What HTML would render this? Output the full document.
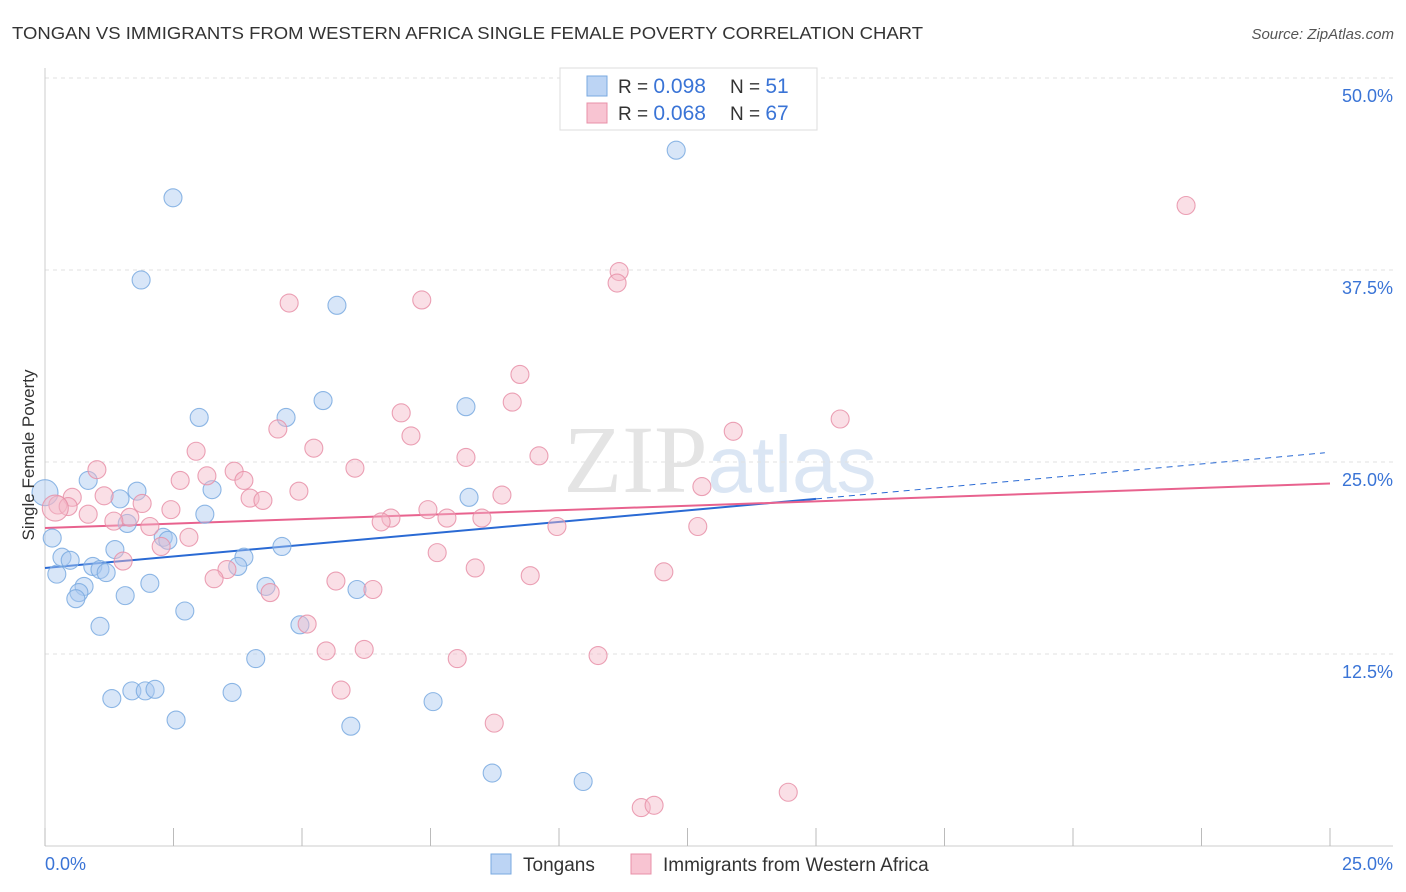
<!DOCTYPE html>
<html><head><meta charset="utf-8"><style>
body{margin:0;background:#fff;font-family:"Liberation Sans",sans-serif;}
svg{display:block}
</style></head><body>
<svg id="chart" width="1406" height="892">
<text x="12" y="39" font-size="17.5" fill="#333" textLength="911" lengthAdjust="spacingAndGlyphs">TONGAN VS IMMIGRANTS FROM WESTERN AFRICA SINGLE FEMALE POVERTY CORRELATION CHART</text>
<text x="1394" y="39" font-size="15" fill="#555" font-style="italic" text-anchor="end">Source: ZipAtlas.com</text>
<text x="720" y="492" font-size="96" fill="#e4e4e4" text-anchor="middle" font-family="Liberation Serif,serif">ZIP<tspan fill="#dbe6f4" font-family="Liberation Sans,sans-serif" font-size="80">atlas</tspan></text>
<g id="grid"></g>
<g id="axes"></g>
<g id="lines"></g>
<g id="points"></g>
<text transform="translate(34,455) rotate(-90)" font-size="17" fill="#333" text-anchor="middle">Single Female Poverty</text>
<g>
<rect x="560" y="68" width="257" height="62" fill="#fff" stroke="#ddd"/>
<rect x="587" y="76" width="20" height="20" fill="#bcd4f4" stroke="#7aaae0"/>
<rect x="587" y="103" width="20" height="20" fill="#f8c4d2" stroke="#e890a8"/>
<text x="618" y="93" font-size="19" fill="#333">R = <tspan fill="#3a74d6" font-size="21">0.098</tspan><tspan x="730">N = </tspan><tspan fill="#3a74d6" font-size="21">51</tspan></text>
<text x="618" y="120" font-size="19" fill="#333">R = <tspan fill="#3a74d6" font-size="21">0.068</tspan><tspan x="730">N = </tspan><tspan fill="#3a74d6" font-size="21">67</tspan></text>
</g>
<g>
<rect x="491" y="854" width="20" height="20" fill="#bcd4f4" stroke="#7aaae0"/>
<text x="523" y="871" font-size="19" fill="#333">Tongans</text>
<rect x="631" y="854" width="20" height="20" fill="#f8c4d2" stroke="#e890a8"/>
<text x="663" y="871" font-size="19" fill="#333">Immigrants from Western Africa</text>
</g>
</svg>
<script>
const blueX=[12.28,2.49,1.87,5.68,5.41,8.19,3.0,4.69,0.84,1.79,3.25,1.46,8.25,0,3.11,1.6,0.14,2.3,2.39,1.36,4.61,3.87,0.33,0.49,0.93,1.07,1.19,3.75,0.23,2.04,0.76,4.3,6.07,0.66,0.6,1.56,2.72,4.96,1.07,4.1,1.69,1.95,2.14,3.64,1.3,7.55,2.55,5.95,8.7,10.47];
const blueY=[45.3,42.2,36.85,35.2,29.0,28.6,27.9,27.9,23.8,23.1,23.2,22.6,22.7,23.0,21.6,21.0,20.05,20.1,19.9,19.3,19.5,18.8,18.8,18.6,18.2,18.0,17.8,18.2,17.7,17.1,16.9,16.9,16.7,16.5,16.1,16.3,15.3,14.4,14.3,12.2,10.1,10.1,10.2,10.0,9.6,9.4,8.2,7.8,4.75,4.2];
const pinkX=[22.2,11.17,11.13,4.75,7.33,9.24,9.09,6.93,15.47,4.53,13.39,7.12,2.94,5.23,9.61,8.19,1.01,6.03,3.68,3.15,2.63,3.87,12.78,4.94,8.89,0.53,1.15,3.99,4.24,1.89,0.25,0.45,2.45,7.45,0.84,1.65,6.73,7.82,8.5,6.54,1.34,2.04,9.96,12.7,0.2,2.8,2.26,7.63,1.52,3.54,8.37,12.04,9.44,3.29,5.66,6.38,4.38,5.1,5.47,6.21,10.76,8.02,5.76,8.74,14.46,11.6,11.85];
const pinkY=[41.7,37.4,36.65,35.35,35.55,30.7,28.9,28.2,27.8,27.15,27.0,26.7,25.7,25.9,25.4,25.3,24.5,24.6,24.4,24.1,23.8,23.8,23.4,23.1,22.85,22.7,22.8,22.65,22.5,22.3,22.2,22.1,21.9,21.9,21.6,21.4,21.35,21.35,21.35,21.1,21.15,20.8,20.8,20.8,22.0,20.1,19.5,19.1,18.55,18.0,18.1,17.85,17.6,17.4,17.25,16.7,16.5,14.45,12.7,12.8,12.4,12.2,10.15,8.0,3.5,2.5,2.65];
const yTicks=[12.5,25.0,37.5,50.0];
const xTickLabels=["0.0%","25.0%"];
const blueTrend=[18.1,22.6];
const blueTrendDash=[22.6,25.6];
const pinkTrend=[20.7,23.6];
const NS="http://www.w3.org/2000/svg";
const sx=v=>45+v*51.4, sy=v=>846-v*15.36;
function mk(tag,attrs,parent){const e=document.createElementNS(NS,tag);for(const k in attrs)e.setAttribute(k,attrs[k]);parent.appendChild(e);return e;}
const grid=document.getElementById('grid'),axes=document.getElementById('axes'),lines=document.getElementById('lines'),pts=document.getElementById('points');
yTicks.forEach(t=>{
 const l=mk('line',{x1:45,x2:1393,y1:sy(t),y2:sy(t),stroke:'#e2e2e2','stroke-dasharray':'4,4'},grid);
 
 
 const tx=mk('text',{x:1393,y:sy(t)+24,'font-size':18,fill:'#3a74d6','text-anchor':'end'},grid);
 tx.textContent=t.toFixed(1)+'%';
 
 
});
const ax=mk('line',{x1:45,x2:1393,y1:846,y2:846,stroke:'#ccc'},axes);


const yax=mk('line',{x1:45,x2:45,y1:68,y2:846,stroke:'#ccc'},axes);


for(let i=0;i<=10;i++){const v=i*2.5;const t=mk('line',{x1:sx(v),x2:sx(v),y1:828,y2:846,stroke:'#bbb'},axes);
 
 }
[[0,'start',45],[25,'end',1393]].forEach((d,i)=>{const t=mk('text',{x:d[2],y:870,'font-size':18,fill:'#3a74d6','text-anchor':d[1]},axes);t.textContent=xTickLabels[i];
 
 });
function dot(x,y,fill,stroke,name,r){const c=mk('circle',{cx:sx(x),cy:sy(y),r:r||9,fill:fill,'fill-opacity':0.45,stroke:stroke,'stroke-width':1.1,'stroke-opacity':0.85},pts);
 
 }
blueX.forEach((x,i)=>dot(x,blueY[i],'#a8c8f0','#7aaae0','tongan-point',i===13?13:9));
pinkX.forEach((x,i)=>dot(x,pinkY[i],'#f4b8c8','#e890a8','western-africa-point',i===44?13:9));
const b=mk('line',{x1:sx(0),y1:sy(blueTrend[0]),x2:sx(15),y2:sy(blueTrend[1]),stroke:'#2a6ad4','stroke-width':2},lines);


const bd=mk('line',{x1:sx(15),y1:sy(blueTrendDash[0]),x2:sx(24.9),y2:sy(blueTrendDash[1]),stroke:'#2a6ad4','stroke-width':1,'stroke-dasharray':'6,5'},lines);


const p=mk('line',{x1:sx(0),y1:sy(pinkTrend[0]),x2:sx(25),y2:sy(pinkTrend[1]),stroke:'#e8628e','stroke-width':2},lines);


</script>
</body></html>
